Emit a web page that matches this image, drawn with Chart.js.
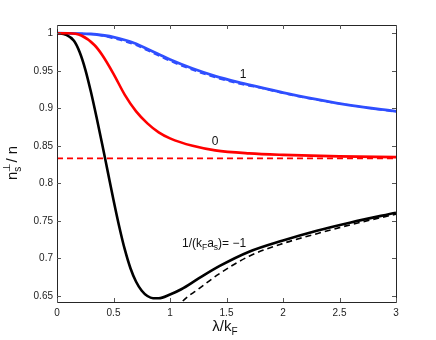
<!DOCTYPE html>
<html>
<head>
<meta charset="utf-8">
<script src="https://cdn.jsdelivr.net/npm/chart.js@4/dist/chart.umd.min.js"></script>
<style>
  html, body { margin: 0; padding: 0; background: #fff; }
  #wrap { width: 436px; height: 340px; }
</style>
</head>
<body>
<div id="wrap"><canvas id="nsChart" width="436" height="340"></canvas></div>
<script>
// lambda/kF samples and n_s/n values
const xBlue = [0, 0.3, 0.42, 0.5, 0.6, 0.7, 0.8, 0.9, 1.0, 1.2, 1.4, 1.6, 1.8, 2.0, 2.3, 2.6, 3.0];
const blueSolid = [1, 0.999, 0.997, 0.995, 0.991, 0.986, 0.979, 0.972, 0.965, 0.953, 0.943, 0.935, 0.928, 0.921, 0.912, 0.904, 0.896];
const blueDashed = [1, 0.999, 0.996, 0.993, 0.989, 0.984, 0.977, 0.970, 0.963, 0.951, 0.941, 0.933, 0.927, 0.920, 0.911, 0.904, 0.895];

const xRed = [0, 0.1, 0.215, 0.333, 0.4, 0.5, 0.6, 0.7, 0.8, 0.9, 1.0, 1.2, 1.4, 1.7, 2.0, 2.5, 3.0];
const redSolid = [1, 1, 0.997, 0.984, 0.971, 0.946, 0.918, 0.896, 0.880, 0.868, 0.86, 0.85, 0.844, 0.84, 0.838, 0.836, 0.835];
const xRedLimit = [0, 3];
const redLimit = [0.8333, 0.8333];

const xBlack = [0, 0.08, 0.15, 0.2, 0.25, 0.3, 0.35, 0.4, 0.45, 0.5, 0.55, 0.6, 0.65, 0.7, 0.75, 0.8, 0.85, 0.9, 1.0, 1.1, 1.25, 1.44, 1.7, 2.0, 2.3, 2.6, 3.0];
const blackSolid = [1, 0.998, 0.99, 0.975, 0.952, 0.922, 0.888, 0.852, 0.815, 0.778, 0.743, 0.712, 0.687, 0.669, 0.657, 0.65, 0.647, 0.647, 0.652, 0.659, 0.673, 0.69, 0.709, 0.724, 0.737, 0.748, 0.761];
const xBlackDashed = [0.9, 1.0, 1.1, 1.25, 1.44, 1.7, 2.0, 2.3, 2.6, 3.0];
const blackDashed = [0.585, 0.617, 0.641, 0.659, 0.68, 0.703, 0.72, 0.733, 0.745, 0.759];

const xTicks = [0, 0.5, 1, 1.5, 2, 2.5, 3];
const yTicks = [0.65, 0.7, 0.75, 0.8, 0.85, 0.9, 0.95, 1];

// curve labels: [x, y] in data units
const labelOne = [1.646, 0.947];
const labelZero = [1.398, 0.858];

const FONT = '"Liberation Sans", Arial, sans-serif';

function pts(xs, ys) {
  return xs.map((x, i) => ({ x: x, y: ys[i] }));
}

// draw a run of text pieces; each piece may be shifted (sub/superscript)
function richText(ctx, parts, x, y, align) {
  let total = 0;
  parts.forEach(p => {
    ctx.font = p.size + 'px ' + FONT;
    p.w = p.stack ? 0 : ctx.measureText(p.t).width;
    total += p.w;
  });
  let cx = align === 'center' ? x - total / 2 : x;
  parts.forEach(p => {
    ctx.font = p.size + 'px ' + FONT;
    ctx.fillText(p.t, cx, y + (p.dy || 0));
    cx += p.w;
  });
}

const decor = {
  id: 'decor',
  afterDatasetsDraw(chart) {
    const ctx = chart.ctx;
    const a = chart.chartArea;
    const xs = chart.scales.x, ys = chart.scales.y;
    ctx.save();
    ctx.strokeStyle = '#262626';
    ctx.lineWidth = 1;
    ctx.beginPath();
    ctx.rect(Math.round(a.left) + 0.5, Math.round(a.top) + 0.5, Math.round(a.right - a.left), Math.round(a.bottom - a.top));
    ctx.stroke();
    // inward ticks on all four sides
    ctx.strokeStyle = '#555';
    ctx.beginPath();
    xTicks.forEach(v => {
      const px = Math.round(xs.getPixelForValue(v)) + 0.5;
      ctx.moveTo(px, a.bottom); ctx.lineTo(px, a.bottom - 4);
      ctx.moveTo(px, a.top); ctx.lineTo(px, a.top + 4);
    });
    yTicks.forEach(v => {
      const py = Math.round(ys.getPixelForValue(v)) + 0.5;
      ctx.moveTo(a.left, py); ctx.lineTo(a.left + 4, py);
      ctx.moveTo(a.right, py); ctx.lineTo(a.right - 4, py);
    });
    ctx.stroke();

    ctx.fillStyle = '#111';
    ctx.textBaseline = 'alphabetic';
    ctx.textAlign = 'left';
    // curve labels
    richText(ctx, [{ t: '1', size: 12 }], xs.getPixelForValue(labelOne[0]), ys.getPixelForValue(labelOne[1]) + 5, 'center');
    richText(ctx, [{ t: '0', size: 12 }], xs.getPixelForValue(labelZero[0]), ys.getPixelForValue(labelZero[1]) + 5, 'center');
    richText(ctx, [
      { t: '1/(k', size: 12 }, { t: 'F', size: 8.5, dy: 3 }, { t: 'a', size: 12 },
      { t: 's', size: 8.5, dy: 3 }, { t: ')= \u22121', size: 12 }
    ], 182, 247, 'left');

    // x axis title
    richText(ctx, [{ t: '\u03bb/k', size: 15 }, { t: 'F', size: 10, dy: 4 }], 225, 331, 'center');
    // y axis title, rotated
    ctx.translate(17, 163);
    ctx.rotate(-Math.PI / 2);
    richText(ctx, [
      { t: 'n', size: 15 }, { t: '\u22a5', size: 10, dy: -7, stack: true },
      { t: 's', size: 10, dy: 4 }, { t: ' / n', size: 15 }
    ], 0, 0, 'center');
    ctx.restore();
  }
};

const ctx = document.getElementById('nsChart').getContext('2d');
new Chart(ctx, {
  type: 'line',
  data: {
    datasets: [
      { data: pts(xRed, redSolid), borderColor: '#ff0000', borderWidth: 2.6 },
      { data: pts(xRedLimit, redLimit), borderColor: '#ff0000', borderWidth: 1.6, borderDash: [6, 4] },
      { data: pts(xBlackDashed, blackDashed), borderColor: '#000', borderWidth: 1.6, borderDash: [6, 4] },
      { data: pts(xBlack, blackSolid), borderColor: '#000', borderWidth: 2.6 },
      { data: pts(xBlue, blueDashed), borderColor: '#2e4cff', borderWidth: 1.6, borderDash: [6, 4] },
      { data: pts(xBlue, blueSolid), borderColor: '#3050ff', borderWidth: 2.8 }
    ]
  },
  options: {
    responsive: false,
    animation: false,
    events: [],
    elements: { point: { radius: 0 }, line: { fill: false, cubicInterpolationMode: 'monotone' } },
    layout: { padding: { left: 0, top: 25, right: 40, bottom: 0 } },
    plugins: { legend: { display: false }, tooltip: { enabled: false } },
    scales: {
      x: {
        type: 'linear', min: 0, max: 3,
        afterBuildTicks: s => { s.ticks = xTicks.map(v => ({ value: v })); },
        afterFit: s => { s.height = 38; },
        grid: { display: false, drawTicks: false },
        border: { display: false },
        ticks: { padding: 5, color: '#222', font: { family: FONT, size: 10 }, maxRotation: 0, callback: v => String(v) }
      },
      y: {
        type: 'linear', min: 0.642, max: 1.011,
        afterBuildTicks: s => { s.ticks = yTicks.map(v => ({ value: v })); },
        afterFit: s => { s.width = 57; },
        grid: { display: false, drawTicks: false },
        border: { display: false },
        ticks: { padding: 4, color: '#222', font: { family: FONT, size: 10 }, callback: v => String(+v.toFixed(2)) }
      }
    }
  },
  plugins: [decor]
});
</script>
</body>
</html>
